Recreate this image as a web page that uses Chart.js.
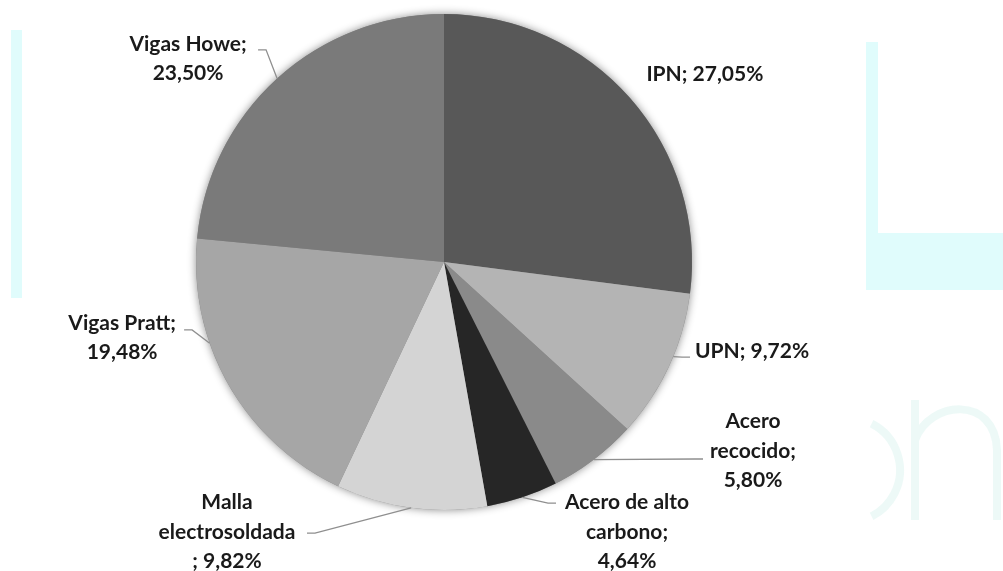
<!DOCTYPE html>
<html>
<head>
<meta charset="utf-8">
<style>
  html, body { margin: 0; padding: 0; background: #ffffff; }
  #wrap { width: 1003px; height: 571px; position: relative; }
</style>
</head>
<body>
<div id="wrap"><canvas id="grafico" width="1003" height="571"></canvas></div>
<script src="https://cdn.jsdelivr.net/npm/chart.js"></script>
<script>
  // Datos del gráfico
  const categorias = [
    "IPN",
    "UPN",
    "Acero recocido",
    "Acero de alto carbono",
    "Malla electrosoldada",
    "Vigas Pratt",
    "Vigas Howe",
  ];
  const porcentajes = [27.05, 9.72, 5.8, 4.64, 9.82, 19.48, 23.5];
  const colores = ["#585858", "#b4b4b4", "#8a8a8a", "#262626", "#d4d4d4", "#a6a6a6", "#7a7a7a"];

  // Posición de las etiquetas (en radios, respecto al centro), punto de unión de la línea
  // guía (px respecto al centro del texto) y fracción del sector donde toca el borde
  const etiquetaPos = [
    [1.052, -0.758], [1.242, 0.359], [1.246, 0.762], [0.738, 1.089],
    [-0.875, 1.089], [-1.298, 0.306], [-1.032, -0.819],
  ];
  const guiaUnion = [null, [-62, 6], [-50, 8], [-71, -29], [80, 1], [62, -8], [70, -9]];
  const guiaFrac = [0.5, 0.43, 0.5, 0.5, 0.5, 0.65, 0.5];
  // palabras por línea en cada etiqueta
  const palabrasLinea = [[3], [3], [1, 2, 1], [3, 2, 1], [1, 1, 2], [3, 1], [3, 1]];

  function formato(v) {
    return v.toFixed(2).replace(".", ",") + "%";
  }

  function lineasEtiqueta(i) {
    const tokens = (categorias[i] + " ; " + formato(porcentajes[i])).split(" ");
    const lineas = [];
    let k = 0;
    palabrasLinea[i].forEach((n) => {
      let s = tokens.slice(k, k + n).join(" ");
      k += n;
      s = s.replace(/(\S) ;/g, "$1;");
      lineas.push(s);
    });
    return lineas;
  }

  // Fondo (marca de agua celeste)
  const fondo = {
    id: "fondo",
    beforeDraw(chart) {
      const c = chart.ctx;
      c.save();
      c.fillStyle = "#ffffff";
      c.fillRect(0, 0, chart.width, chart.height);
      c.fillStyle = "#e0fcfc";
      c.fillRect(11, 30, 11, 268);
      c.fillRect(866, 42, 12, 248);
      c.fillRect(866, 233, 137, 57);
      c.strokeStyle = "rgba(225, 245, 242, 0.6)";
      c.lineWidth = 8;
      c.beginPath();
      c.arc(848, 470, 52, -1.1, 1.1);
      c.stroke();
      c.beginPath();
      c.moveTo(915, 520);
      c.lineTo(915, 400);
      c.moveTo(915, 440);
      c.bezierCurveTo(930, 400, 995, 395, 997, 450);
      c.lineTo(997, 520);
      c.stroke();
      c.restore();
    },
    beforeDatasetsDraw(chart) {
      const arc = chart.getDatasetMeta(0).data[0];
      if (!arc) return;
      const c = chart.ctx;
      c.save();
      c.shadowColor = "rgba(0,0,0,0.45)";
      c.shadowBlur = 9;
      c.fillStyle = "#888888";
      c.beginPath();
      c.arc(arc.x, arc.y, arc.outerRadius, 0, Math.PI * 2);
      c.fill();
      c.restore();
    },
  };

  // Etiquetas con líneas guía
  const etiquetas = {
    id: "etiquetas",
    afterDatasetsDraw(chart) {
      const c = chart.ctx;
      const arcos = chart.getDatasetMeta(0).data;
      c.save();
      c.font = "bold 21px Lato";
      c.textAlign = "center";
      c.textBaseline = "middle";
      arcos.forEach((a, i) => {
        const r = a.outerRadius;
        const tx = a.x + etiquetaPos[i][0] * r;
        const ty = a.y + etiquetaPos[i][1] * r;
        const lineas = lineasEtiqueta(i);
        const alto = 29.5;
        const y0 = ty - ((lineas.length - 1) * alto) / 2;

        if (guiaUnion[i]) {
          const ang = a.startAngle + guiaFrac[i] * (a.endAngle - a.startAngle);
          const ex = a.x + Math.cos(ang) * r;
          const ey = a.y + Math.sin(ang) * r;
          const ux = tx + guiaUnion[i][0];
          const uy = ty + guiaUnion[i][1];
          const dir = ex > ux ? 1 : -1;
          c.strokeStyle = "#8f8f8f";
          c.lineWidth = 1.3;
          c.beginPath();
          c.moveTo(ux, uy);
          c.lineTo(ux + dir * 8, uy);
          c.lineTo(ex, ey);
          c.stroke();
        }

        c.fillStyle = "#1a1a1a";
        lineas.forEach((l, j) => c.fillText(l, tx, y0 + j * alto));
      });
      c.restore();
    },
  };

  const ctx = document.getElementById("grafico").getContext("2d");

  new Chart(ctx, {
    type: "pie",
    data: {
      labels: categorias,
      datasets: [
        {
          data: porcentajes,
          backgroundColor: colores,
          borderWidth: 0,
        },
      ],
    },
    options: {
      responsive: false,
      animation: false,
      layout: { padding: { top: 14, bottom: 61, left: 0, right: 115 } },
      plugins: {
        legend: { display: false },
        tooltip: { enabled: false },
      },
    },
    plugins: [fondo, etiquetas],
  });
</script>
</body>
</html>
